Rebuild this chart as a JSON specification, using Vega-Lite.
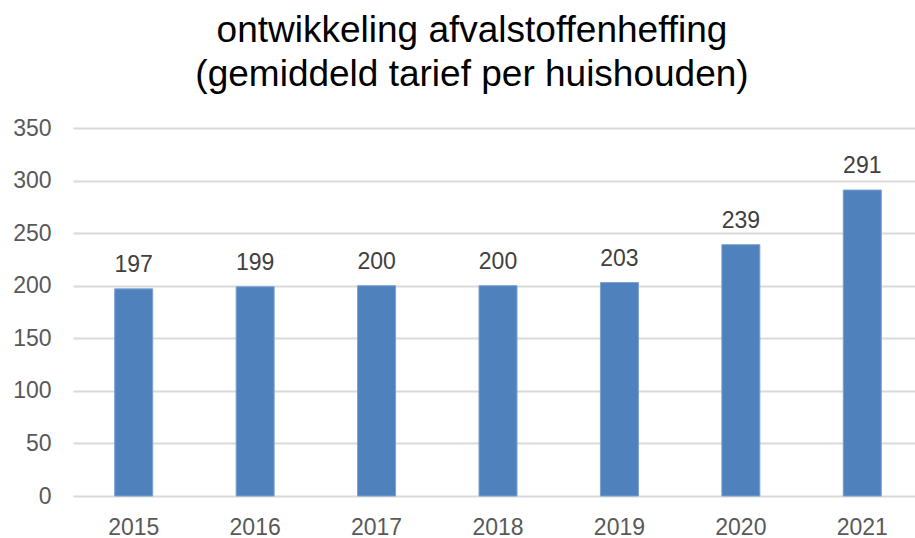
{
  "$schema": "https://vega.github.io/schema/vega-lite/v6.json",
  "width": 842,
  "height": 368,
  "autosize": {"type": "none"},
  "padding": {"left": 73, "top": 128, "right": 0, "bottom": 42},
  "background": "white",
  "title": {
    "text": ["ontwikkeling afvalstoffenheffing", "(gemiddeld tarief per huishouden)"],
    "font": "Liberation Sans",
    "fontSize": 37,
    "fontWeight": "normal",
    "color": "#000000",
    "lineHeight": 44,
    "anchor": "middle",
    "offset": 23,
    "dx": -22,
    "frame": "group"
  },
  "data": {
    "values": [
      {"jaar": "2015", "tarief": 197},
      {"jaar": "2016", "tarief": 199},
      {"jaar": "2017", "tarief": 200},
      {"jaar": "2018", "tarief": 200},
      {"jaar": "2019", "tarief": 203},
      {"jaar": "2020", "tarief": 239},
      {"jaar": "2021", "tarief": 291}
    ]
  },
  "encoding": {
    "x": {
      "field": "jaar",
      "type": "ordinal",
      "scale": {"range": [0, 850], "paddingInner": 0, "paddingOuter": 0},
      "axis": {
        "title": null,
        "labelAngle": 0,
        "labelFont": "Liberation Sans",
        "labelFontSize": 23,
        "labelColor": "#595959",
        "labelPadding": 20,
        "ticks": false,
        "domain": false,
        "grid": false
      }
    },
    "y": {
      "field": "tarief",
      "type": "quantitative",
      "scale": {"domain": [0, 350]},
      "axis": {
        "title": null,
        "values": [0, 50, 100, 150, 200, 250, 300, 350],
        "labelFont": "Liberation Sans",
        "labelFontSize": 23,
        "labelColor": "#595959",
        "labelPadding": 22,
        "ticks": false,
        "domain": false,
        "grid": true,
        "gridColor": "#d9d9d9",
        "gridWidth": 2
      }
    }
  },
  "layer": [
    {
      "mark": {"type": "bar", "width": 38, "color": "#4f81bd", "stroke": "#7aa0d0", "strokeWidth": 1}
    },
    {
      "mark": {
        "type": "text",
        "baseline": "alphabetic",
        "dy": -17,
        "font": "Liberation Sans",
        "fontSize": 23,
        "color": "#404040"
      },
      "encoding": {"text": {"field": "tarief", "type": "quantitative"}}
    }
  ],
  "config": {"view": {"stroke": null}}
}
